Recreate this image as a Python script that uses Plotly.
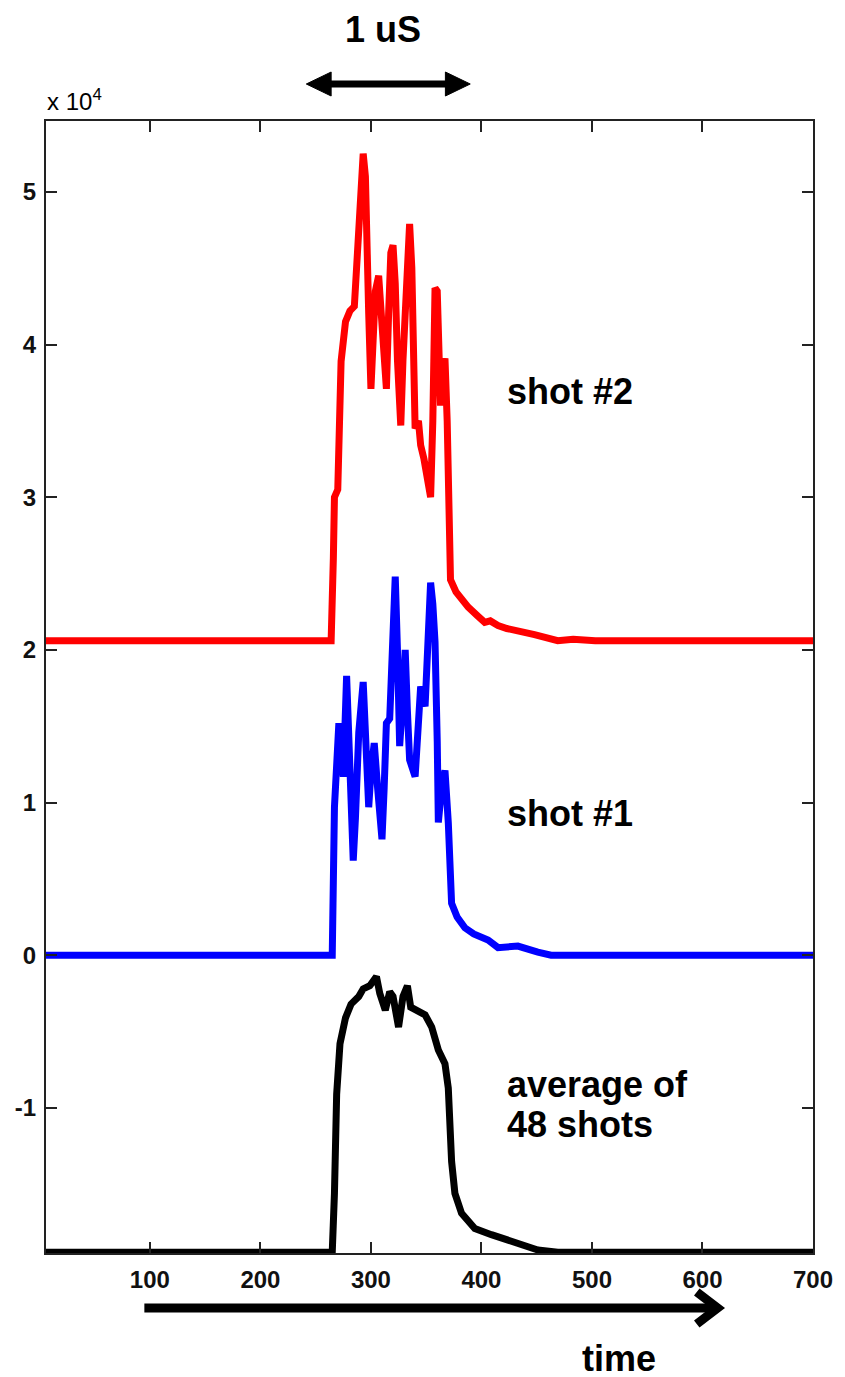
import plotly.graph_objects as go

# ---------------- data (y in units of 1e4) ----------------
red_x = [1, 264, 266, 267, 270, 272, 273, 277, 281, 285, 289, 291, 293, 295, 296, 298,
         300, 302, 304, 307, 309, 311, 314, 316, 318, 320, 322, 324, 327, 329, 332, 335,
         337, 340, 343, 345, 348, 351, 354, 356, 358, 360, 363, 365, 367, 369, 372, 377,
         382, 388, 397, 403, 408, 415, 423, 433, 448, 469, 483, 503, 700]
red_y = [2.06, 2.06, 2.6, 3.0, 3.05, 3.5, 3.89, 4.15, 4.22, 4.25, 4.75, 5.05, 5.25, 5.1, 4.65, 4.2,
         3.71, 4.1, 4.35, 4.45, 4.25, 4.1, 3.71, 4.2, 4.6, 4.65, 4.4, 3.9, 3.47, 3.9, 4.5, 4.79,
         4.5, 3.45, 3.5, 3.34, 3.25, 3.1, 3.0, 3.5, 4.37, 4.35, 3.6, 3.8, 3.91, 3.5, 2.46, 2.38,
         2.33, 2.28, 2.22, 2.18, 2.19, 2.16, 2.14, 2.12, 2.1, 2.06, 2.07, 2.06, 2.06]

blue_x = [1, 265, 267, 269, 271, 273, 275, 278, 280, 284, 286, 289, 293, 295, 298, 300,
          303, 306, 310, 312, 314, 317, 320, 322, 324, 326, 329, 331, 333, 335, 340, 343,
          345, 349, 351, 354, 356, 358, 360, 361, 364, 367, 370, 373, 378, 385, 393, 406,
          415, 433, 451, 463, 700]
blue_y = [0, 0, 0.97, 1.2, 1.52, 1.37, 1.17, 1.83, 1.5, 0.62, 0.9, 1.46, 1.79, 1.4, 0.97, 1.2,
          1.39, 1.1, 0.76, 1.1, 1.52, 1.55, 2.1, 2.48, 2.0, 1.37, 1.7, 2.0, 1.6, 1.28, 1.17, 1.5,
          1.76, 1.63, 2.0, 2.44, 2.3, 2.05, 1.4, 0.87, 1.1, 1.21, 0.87, 0.34, 0.25, 0.18, 0.14, 0.1,
          0.05, 0.06, 0.02, 0, 0]

black_x = [1, 265, 267, 269, 272, 277, 282, 289, 293, 299, 305, 308, 313, 317, 320, 325,
           329, 333, 336, 343, 349, 355, 361, 367, 370, 373, 376, 382, 394, 409, 430, 451,
           469, 700]
black_y = [-1.945, -1.945, -1.56, -0.91, -0.58, -0.41, -0.32, -0.27, -0.22, -0.2, -0.14, -0.25,
           -0.36, -0.24, -0.27, -0.47, -0.27, -0.2, -0.34, -0.37, -0.39, -0.47, -0.62, -0.71,
           -0.87, -1.35, -1.56, -1.69, -1.79, -1.83, -1.88, -1.93, -1.945, -1.945]

x_ticks = [100, 200, 300, 400, 500, 600, 700]
y_ticks = [-1, 0, 1, 2, 3, 4, 5]
y_tick_labels = ["-1", "0", "1", "2", "3", "4", "5"]

labels = {"red": "shot #2", "blue": "shot #1", "black1": "average of", "black2": "48 shots"}

# ---------------- layout geometry ----------------
W, H = 845, 1377
L, R, T, B = 46, 818, 121, 1253
PW, PH = R - L, B - T


def P(px, py):
    return (px - L) / PW, (B - py) / PH


FONT = "Liberation Sans, Arial, Helvetica, sans-serif"

fig = go.Figure()
for xs, ys, col in [(red_x, red_y, "#ff0000"), (blue_x, blue_y, "#0000ff"),
                    (black_x, black_y, "#000000")]:
    fig.add_trace(go.Scatter(x=xs, y=ys, mode="lines", line=dict(color=col, width=7),
                             showlegend=False, hoverinfo="skip"))

axis_common = dict(showline=True, linecolor="#222222", linewidth=2, mirror="ticks",
                   ticks="inside", ticklen=11, tickwidth=1.5, tickcolor="#222222",
                   showgrid=False, zeroline=False,
                   tickfont=dict(family=FONT, size=24, color="#111111", weight="bold"))

fig.update_xaxes(range=[6, 700], tickvals=x_ticks, ticklabelstandoff=4, **axis_common)
fig.update_yaxes(range=[-1.95, 5.464], tickvals=y_ticks, ticktext=y_tick_labels,
                 ticklabelstandoff=3, **axis_common)

annots = []


def text(s, px, py, size=36, xanchor="left", bold=True, height=None):
    x, y = P(px, py)
    a = dict(x=x, y=y, xref="paper", yref="paper", text=(f"<b>{s}</b>" if bold else s),
             showarrow=False, xanchor=xanchor, yanchor="middle",
             font=dict(family=FONT, size=size, color="#000000"))
    if height:
        a["height"] = height
    annots.append(a)


text("1 uS", 385, 29, xanchor="center")
text(labels["red"], 508, 391)
text(labels["blue"], 508, 813)
text(labels["black1"], 508, 1084)
text(labels["black2"], 508, 1124)
text("time", 623, 1358, xanchor="center", height=36)
text("x 10<sup>4</sup>", 45, 100, size=24, bold=False)

shapes = []


def seg(p1, p2, w):
    x0, y0 = P(*p1)
    x1, y1 = P(*p2)
    shapes.append(dict(type="line", xref="paper", yref="paper", x0=x0, y0=y0, x1=x1, y1=y1,
                       line=dict(color="#000000", width=w)))


def poly(pts, fill=True, w=1):
    d = ""
    for i, p in enumerate(pts):
        x, y = P(*p)
        d += ("M" if i == 0 else "L") + f"{x},{y} "
    if fill:
        d += "Z"
    shapes.append(dict(type="path", xref="paper", yref="paper", path=d,
                       fillcolor="#000000" if fill else None,
                       line=dict(color="#000000", width=w)))


# top double arrow (1 uS)
seg((328, 84), (454, 84), 7)
poly([(308, 84), (333, 72), (333, 96)])
poly([(473, 84), (448, 72), (448, 96)])

# bottom time arrow
seg((145, 1308), (720, 1308), 9)
poly([(701, 1292), (722, 1308), (701, 1324)], fill=False, w=9)

fig.update_layout(width=W, height=H, margin=dict(l=L, r=W - R, t=T, b=H - B),
                  paper_bgcolor="white", plot_bgcolor="white",
                  annotations=annots, shapes=shapes)

fig.write_html("out.html")
